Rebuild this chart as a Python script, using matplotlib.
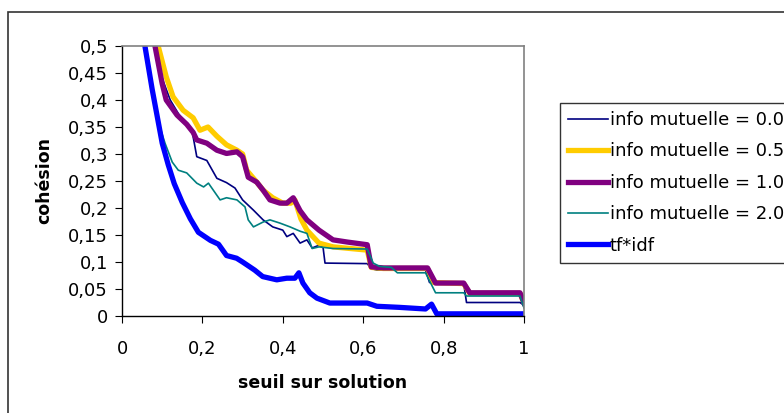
import matplotlib
matplotlib.use("Agg")
import matplotlib.pyplot as plt
from matplotlib.patches import Rectangle

# le graphique d'origine a un texte un peu étiré en largeur : DejaVu Sans en donne les proportions
plt.rcParams['font.family'] = ['DejaVu Sans']

# info mutuelle = 0.0
x_im00 = [0.085, 0.10, 0.12, 0.14, 0.16, 0.174, 0.186, 0.211, 0.236, 0.26, 0.281, 0.30, 0.327,
          0.351, 0.375, 0.40, 0.41, 0.426, 0.443, 0.46, 0.473, 0.49, 0.50, 0.505, 0.61, 0.62,
          0.634, 0.755, 0.765, 0.85, 0.857, 0.99, 1.0]
y_im00 = [0.5, 0.44, 0.40, 0.375, 0.355, 0.344, 0.295, 0.288, 0.255, 0.247, 0.237, 0.215, 0.196,
          0.178, 0.165, 0.159, 0.147, 0.153, 0.135, 0.141, 0.126, 0.131, 0.128, 0.098, 0.097, 0.088,
          0.085, 0.085, 0.062, 0.06, 0.025, 0.025, 0.02]

# info mutuelle = 0.5
x_im05 = [0.09, 0.11, 0.127, 0.152, 0.177, 0.194, 0.214, 0.236, 0.26, 0.286, 0.30, 0.31, 0.335,
          0.351, 0.375, 0.40, 0.42, 0.43, 0.445, 0.46, 0.49, 0.525, 0.61, 0.62, 0.65, 0.76, 0.775,
          0.85, 0.865, 0.99, 1.0]
y_im05 = [0.5, 0.443, 0.406, 0.381, 0.367, 0.344, 0.35, 0.333, 0.317, 0.307, 0.30, 0.27, 0.248,
          0.233, 0.219, 0.209, 0.209, 0.215, 0.18, 0.159, 0.135, 0.128, 0.122, 0.09, 0.088, 0.088,
          0.062, 0.06, 0.042, 0.042, 0.025]

# info mutuelle = 1.0
x_im10 = [0.082, 0.10, 0.11, 0.137, 0.161, 0.177, 0.186, 0.211, 0.236, 0.26, 0.286, 0.30, 0.314,
          0.335, 0.351, 0.368, 0.393, 0.41, 0.426, 0.443, 0.46, 0.49, 0.525, 0.56, 0.58, 0.61, 0.62,
          0.65, 0.76, 0.78, 0.85, 0.865, 0.99, 1.0]
y_im10 = [0.5, 0.43, 0.40, 0.372, 0.355, 0.34, 0.326, 0.32, 0.307, 0.301, 0.304, 0.295, 0.257,
          0.248, 0.233, 0.215, 0.209, 0.209, 0.219, 0.195, 0.178, 0.159, 0.141, 0.137, 0.135, 0.132,
          0.091, 0.089, 0.089, 0.061, 0.061, 0.043, 0.043, 0.024]

# info mutuelle = 2.0
x_im20 = [0.06, 0.075, 0.09, 0.107, 0.125, 0.14, 0.161, 0.186, 0.203, 0.215, 0.244, 0.26, 0.286,
          0.306, 0.314, 0.327, 0.351, 0.368, 0.393, 0.418, 0.443, 0.46, 0.473, 0.49, 0.525, 0.61,
          0.625, 0.64, 0.67, 0.685, 0.755, 0.78, 0.85, 0.857, 0.99, 1.0]
y_im20 = [0.5, 0.42, 0.36, 0.32, 0.285, 0.27, 0.265, 0.246, 0.239, 0.246, 0.215, 0.219, 0.215,
          0.202, 0.178, 0.165, 0.174, 0.178, 0.172, 0.165, 0.157, 0.153, 0.125, 0.128, 0.125, 0.124,
          0.098, 0.092, 0.09, 0.08, 0.08, 0.043, 0.043, 0.037, 0.037, 0.015]

# tf*idf
x_tfidf = [0.057, 0.075, 0.09, 0.10, 0.115, 0.13, 0.15, 0.17, 0.19, 0.22, 0.24, 0.26, 0.285, 0.30,
           0.33, 0.35, 0.385, 0.41, 0.43, 0.44, 0.45, 0.467, 0.485, 0.517, 0.61, 0.634, 0.69,
           0.755, 0.77, 0.783, 1.0]
y_tfidf = [0.5, 0.42, 0.36, 0.32, 0.28, 0.245, 0.21, 0.18, 0.155, 0.14, 0.133, 0.112, 0.107, 0.1,
           0.085, 0.073, 0.067, 0.07, 0.07, 0.08, 0.061, 0.043, 0.033, 0.024, 0.024, 0.018, 0.016,
           0.013, 0.022, 0.004, 0.004]

x_ticks = [0, 0.2, 0.4, 0.6, 0.8, 1]
x_tick_labels = ["0", "0,2", "0,4", "0,6", "0,8", "1"]
y_ticks = [0, 0.05, 0.1, 0.15, 0.2, 0.25, 0.3, 0.35, 0.4, 0.45, 0.5]
y_tick_labels = ["0", "0,05", "0,1", "0,15", "0,2", "0,25", "0,3", "0,35", "0,4", "0,45", "0,5"]

W, H = 784, 413
fig = plt.figure(figsize=(W / 100, H / 100), dpi=100)
ax = fig.add_axes([122 / W, 1 - 316 / H, (524 - 122) / W, (316 - 46) / H])

ax.plot(x_im00, y_im00, color='#000080', lw=1.2, label='info mutuelle = 0.0')
ax.plot(x_im05, y_im05, color='#FFCC00', lw=3.8, label='info mutuelle = 0.5')
ax.plot(x_im10, y_im10, color='#800080', lw=3.8, label='info mutuelle = 1.0')
ax.plot(x_im20, y_im20, color='#008080', lw=1.2, label='info mutuelle = 2.0')
ax.plot(x_tfidf, y_tfidf, color='#0000FF', lw=3.8, label='tf*idf')

ax.set_xlim(0, 1)
ax.set_ylim(0, 0.5)
ax.set_xticks(x_ticks)
ax.set_xticklabels(x_tick_labels)
ax.set_yticks(y_ticks)
ax.set_yticklabels(y_tick_labels)
ax.tick_params(axis='x', direction='out', length=5, pad=12, labelsize=13, width=0.8)
ax.tick_params(axis='y', direction='out', length=5, pad=5, labelsize=13, width=0.8)

for side in ['top', 'right']:
    ax.spines[side].set_color('#808080')
    ax.spines[side].set_linewidth(1.2)
for side in ['left', 'bottom']:
    ax.spines[side].set_color('black')
    ax.spines[side].set_linewidth(1.0)

fig.text(323 / W, 1 - 383 / H, "seuil sur solution", ha='center', va='center',
         fontsize=12.5, fontweight='bold')
fig.text(44 / W, 1 - 181 / H, "cohésion", ha='center', va='center', rotation=90,
         fontsize=12.5, fontweight='bold')

leg = fig.legend(loc='upper left', bbox_to_anchor=(560 / W, 1 - 103 / H), frameon=True,
                 fancybox=False, fontsize=13, handlelength=2.2, handletextpad=0.1,
                 labelspacing=0.74, borderpad=0.45, borderaxespad=0)
leg.get_frame().set_edgecolor('black')
leg.get_frame().set_linewidth(1.0)

# cadre extérieur du graphique, coupé à droite et en bas
fig.patches.append(Rectangle((8 / W, -0.1), 1.2, 1.1 - 12 / H, transform=fig.transFigure,
                             fill=False, edgecolor='#333333', linewidth=1.2))

fig.savefig("out.png", dpi=100)
